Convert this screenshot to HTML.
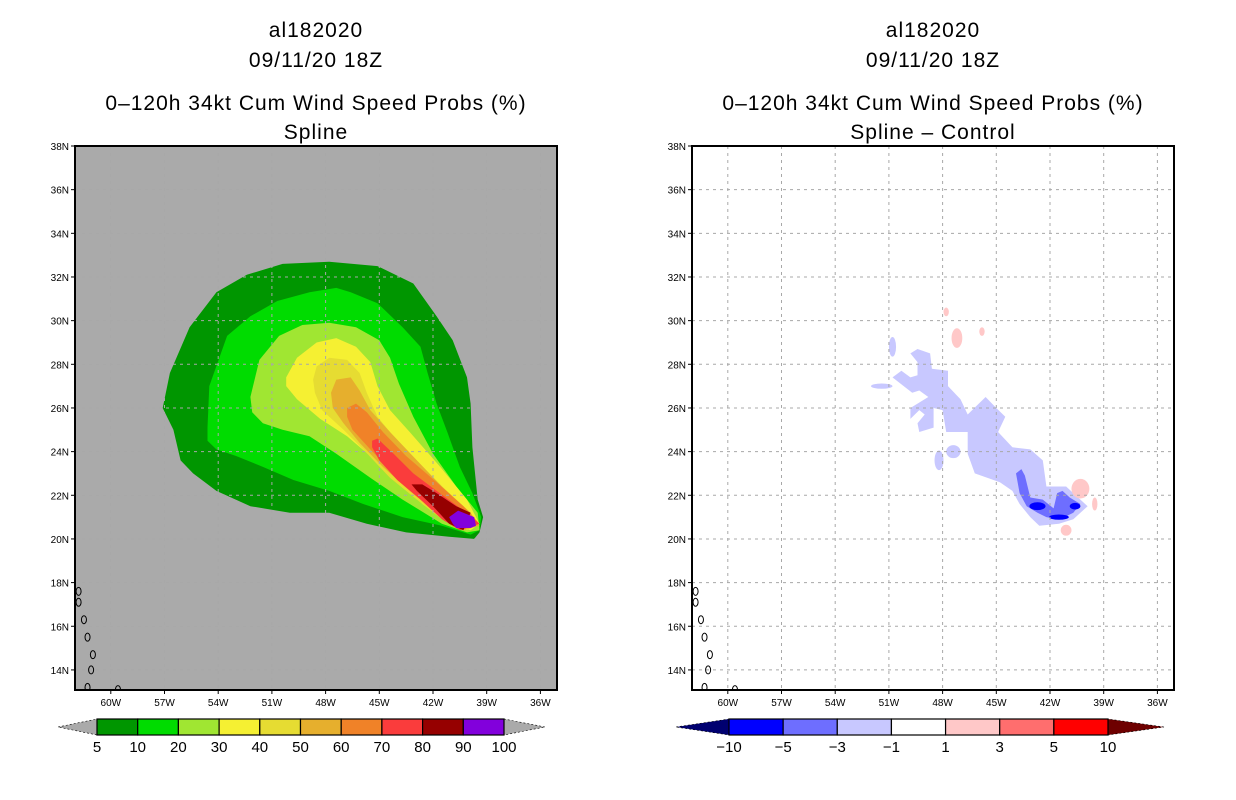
<!DOCTYPE html>
<html><head><meta charset="utf-8">
<style>
body{margin:0;background:#fff;width:1236px;height:800px;overflow:hidden;font-family:"Liberation Sans",sans-serif;}
svg{position:absolute;left:0;top:0;}
</style></head>
<body>
<svg id="chart" width="1236" height="800" viewBox="0 0 1236 800" xmlns="http://www.w3.org/2000/svg"></svg>
<script>
// ---- axis data ----
const lonTicks=[-60,-57,-54,-51,-48,-45,-42,-39,-36];
const latTicks=[14,16,18,20,22,24,26,28,30,32,34,36,38];
const leftLevels=["5","10","20","30","40","50","60","70","80","90","100"];
const leftColors=["#009600","#00dc00","#a0e632","#f5f032","#e6dc32","#e6af2d","#f08228","#fa3c3c","#960000","#8200dc"];
const rightLevels=["-10","-5","-3","-1","1","3","5","10"];
const rightColors=["#0000ff","#6e6eff","#c8c8ff","#ffffff","#ffc8c8","#ff6e6e","#ff0000"];
// contour polygons [lon,lat] for Spline panel (5%,10%,20%,...,90%)
const c5=[[-57.1,26.0],[-56.7,27.6],[-55.6,29.7],[-54.1,31.3],[-52.4,32.1],[-50.4,32.6],[-47.8,32.7],[-45.1,32.5],[-43.1,31.7],[-41.8,30.2],[-40.9,29.1],[-40.1,27.4],[-39.9,26.2],[-39.8,24.2],[-39.5,21.8],[-39.2,21.0],[-39.4,20.3],[-39.7,20.0],[-41.1,20.1],[-43.5,20.3],[-45.7,20.7],[-47.8,21.2],[-50.0,21.2],[-52.2,21.5],[-54.1,22.2],[-55.4,23.0],[-56.1,23.6],[-56.5,25.0]];
const c10=[[-54.6,25.1],[-54.5,27.0],[-53.5,29.3],[-52.2,30.2],[-50.7,30.9],[-48.9,31.3],[-47.4,31.5],[-46.6,31.3],[-45.1,30.8],[-43.7,29.7],[-42.7,28.8],[-42.3,27.6],[-41.8,26.2],[-41.2,24.9],[-40.5,23.3],[-39.8,22.1],[-39.3,21.0],[-39.4,20.4],[-39.9,20.2],[-41.5,20.6],[-43.7,21.0],[-45.9,21.6],[-47.8,22.2],[-49.8,22.7],[-51.5,23.3],[-53.0,23.8],[-54.1,24.1],[-54.6,24.5]];
const c20=[[-52.2,26.5],[-51.7,28.2],[-50.6,29.3],[-49.3,29.8],[-47.8,29.9],[-46.3,29.7],[-45.0,29.1],[-44.4,28.3],[-43.9,27.1],[-43.1,25.6],[-42.0,23.9],[-40.7,22.4],[-39.5,21.2],[-39.4,20.4],[-40.1,20.3],[-41.5,20.7],[-43.7,21.8],[-45.5,22.8],[-47.4,23.9],[-48.9,24.7],[-50.4,25.0],[-51.5,25.3],[-52.1,25.8]];
const c30=[[-50.2,27.4],[-49.6,28.3],[-48.5,29.0],[-47.4,29.2],[-46.3,28.8],[-45.5,28.1],[-45.1,27.0],[-44.4,25.9],[-43.3,24.9],[-41.6,23.3],[-40.1,21.8],[-39.4,20.7],[-39.9,20.4],[-41.1,20.7],[-42.6,21.6],[-44.0,22.7],[-45.5,23.8],[-46.8,24.7],[-48.3,25.5],[-49.6,26.4],[-50.2,27.0]];
const c40=[[-48.7,27.3],[-48.5,27.9],[-47.8,28.3],[-46.8,28.2],[-46.1,27.6],[-45.7,26.7],[-45.1,25.6],[-44.0,24.5],[-42.6,23.3],[-41.1,22.1],[-39.4,20.7],[-40.1,20.4],[-41.5,20.9],[-42.9,21.8],[-44.4,22.8],[-45.9,24.1],[-47.0,25.0],[-48.2,25.9],[-48.6,26.7]];
const c50=[[-47.7,26.7],[-47.4,27.3],[-46.6,27.4],[-46.1,26.8],[-45.5,25.9],[-44.4,24.9],[-42.9,23.6],[-41.5,22.4],[-39.9,21.2],[-39.4,20.6],[-40.3,20.4],[-41.8,21.2],[-43.3,22.2],[-44.8,23.3],[-46.1,24.4],[-47.0,25.3],[-47.6,26.0]];
const c60=[[-46.8,26.0],[-46.3,26.2],[-45.7,25.8],[-44.8,24.9],[-43.5,23.8],[-41.8,22.6],[-40.3,21.5],[-39.4,20.7],[-40.5,20.4],[-41.6,21.2],[-43.1,22.2],[-44.4,23.2],[-45.5,24.1],[-46.5,25.0],[-46.8,25.6]];
const c70=[[-45.4,24.5],[-45.1,24.6],[-44.2,23.9],[-43.1,23.0],[-41.8,22.2],[-40.3,21.3],[-39.4,20.7],[-40.5,20.4],[-41.5,20.9],[-42.7,21.8],[-44.0,22.7],[-45.0,23.6],[-45.4,24.2]];
const c80=[[-43.2,22.5],[-42.6,22.5],[-41.8,22.1],[-40.7,21.5],[-39.9,21.2],[-40.3,20.4],[-41.1,20.7],[-42.0,21.5],[-42.9,22.2]];
const c90=[[-41.1,21.0],[-40.6,21.3],[-39.7,21.0],[-39.6,20.6],[-39.9,20.5],[-40.7,20.5],[-40.9,20.7]];
// difference panel
const dLight=[[-49.8,28.5],[-49.4,28.7],[-48.7,28.5],[-48.6,27.8],[-47.7,27.7],[-47.7,27.0],[-47.0,26.4],[-46.6,25.7],[-45.6,26.5],[-45.0,26.0],[-44.5,25.6],[-44.9,24.9],[-44.1,24.2],[-43.1,24.1],[-42.4,23.6],[-42.2,22.4],[-41.1,22.4],[-39.9,21.5],[-40.7,20.9],[-41.5,20.7],[-42.6,20.6],[-43.1,21.0],[-43.7,21.6],[-44.1,22.2],[-44.8,22.6],[-46.2,23.0],[-46.6,23.9],[-46.6,24.9],[-47.8,24.9],[-48.0,25.9],[-48.5,26.0],[-48.5,25.1],[-49.3,24.9],[-49.4,25.3],[-49.0,25.7],[-49.3,25.9],[-49.8,25.5],[-49.8,26.0],[-48.8,26.5],[-49.3,26.8],[-49.7,26.7],[-50.8,27.4],[-50.3,27.7],[-49.8,27.4],[-49.4,27.5],[-49.4,28.1]];
const dMed=[[-43.9,23.0],[-43.6,23.2],[-43.4,22.9],[-43.1,21.9],[-42.4,21.8],[-41.8,21.4],[-41.6,22.1],[-41.3,22.2],[-40.9,21.9],[-40.3,21.6],[-40.7,21.2],[-41.2,21.0],[-41.6,20.9],[-42.2,21.0],[-42.7,21.2],[-43.3,21.5],[-43.7,22.1]];
// small blobs: [lon,lat,rxDeg,ryDeg]
const lightBlobs=[[-50.8,28.8,0.2,0.45],[-51.4,27.0,0.6,0.12],[-48.2,23.6,0.25,0.45],[-47.4,24.0,0.4,0.3]];
const pinkBlobs=[[-47.8,30.4,0.15,0.2],[-47.2,29.2,0.3,0.45],[-45.8,29.5,0.15,0.2],[-40.3,22.3,0.5,0.45],[-39.5,21.6,0.15,0.3],[-41.1,20.4,0.3,0.25]];
const darkBlobs=[[-42.7,21.5,0.45,0.18],[-40.6,21.5,0.3,0.15],[-41.5,21.0,0.55,0.12]];
const islands=[[-61.8,17.6],[-61.8,17.1],[-61.5,16.3],[-61.3,15.5],[-61.0,14.7],[-61.1,14.0],[-61.3,13.2],[-59.6,13.1]];

const svg=document.getElementById('chart');
const NS='http://www.w3.org/2000/svg';
function mk(tag,attrs,parent){const e=document.createElementNS(NS,tag);for(const k in attrs)e.setAttribute(k,attrs[k]);(parent||svg).appendChild(e);return e;}
const PX=17.9,PY=21.83,LON0=-62,LAT0=38,TOP=146,BOT=690,W=482;
function xs(x0){return lon=>x0+(lon-LON0)*PX;}
function ys(lat){return TOP+(LAT0-lat)*PY;}
function poly(pts,X){return pts.map(p=>X(p[0]).toFixed(1)+','+ys(p[1]).toFixed(1)).join(' ');}
function lonLab(v){return Math.abs(v)+'W';}

function panel(x0,name,bg,sub){
  const X=xs(x0);
  const g=mk('g',{});
  
  
  const cx=x0+W/2;
  const titles=['al182020','09/11/20 18Z','0\u2013120h 34kt Cum Wind Speed Probs (%)',sub];
  const ty=[37,67,110,139];
  titles.forEach((t,i)=>{const e=mk('text',{x:cx,y:ty[i],'text-anchor':'middle','font-size':'21','fill':'#000','letter-spacing':'1'},g);e.textContent=t;
    
    });
  const clipId='clip'+x0;
  const cp=mk('clipPath',{id:clipId},g);mk('rect',{x:x0,y:TOP,width:W,height:BOT-TOP},cp);
  const bgr=mk('rect',{x:x0,y:TOP,width:W,height:BOT-TOP,fill:bg},g);
  
  
  const inner=mk('g',{'clip-path':'url(#'+clipId+')'},g);
  return {X,g,inner};
}
function frame(p,x0){
  const {X,g,inner}=p;
  lonTicks.forEach(v=>{const x=X(v);mk('line',{x1:x,y1:TOP,x2:x,y2:BOT,stroke:'#a8a8a8','stroke-width':1,'stroke-dasharray':'3,4'},inner);});
  latTicks.forEach(v=>{const y=ys(v);mk('line',{x1:x0,y1:y,x2:x0+W,y2:y,stroke:'#a8a8a8','stroke-width':1,'stroke-dasharray':'3,4'},inner);});
  islands.forEach((p,i)=>{const e=mk('ellipse',{cx:X(p[0]),cy:ys(p[1]),rx:2.5,ry:4,fill:'none',stroke:'#000','stroke-width':1},inner);
    
    });
  const b=mk('rect',{x:x0,y:TOP,width:W,height:BOT-TOP,fill:'none',stroke:'#000','stroke-width':2},g);
  
  
  lonTicks.forEach(v=>{const x=X(v);mk('line',{x1:x,y1:BOT,x2:x,y2:BOT+4,stroke:'#000'},g);
    const t=mk('text',{x:x,y:BOT+16,'text-anchor':'middle','font-size':'10'},g);t.textContent=lonLab(v);
    
    });
  latTicks.forEach(v=>{const y=ys(v);mk('line',{x1:x0-4,y1:y,x2:x0,y2:y,stroke:'#000'},g);
    const t=mk('text',{x:x0-6,y:y+4,'text-anchor':'end','font-size':'10'},g);t.textContent=v+'N';
    
    });
}
function colorbar(x1,x2,tl,tr,cols,labs,lc,rc,name){
  const g=mk('g',{});
  
  
  const y1=719,y2=735,ym=727,n=cols.length,w=(x2-x1)/n;
  mk('polygon',{points:`${tl},${ym} ${x1},${y1} ${x1},${y2}`,fill:lc,stroke:'#000','stroke-width':0.6,'stroke-dasharray':'2,2'},g);
  mk('polygon',{points:`${tr},${ym} ${x2},${y1} ${x2},${y2}`,fill:rc,stroke:'#000','stroke-width':0.6,'stroke-dasharray':'2,2'},g);
  cols.forEach((c,i)=>{const r=mk('rect',{x:x1+i*w,y:y1,width:w,height:y2-y1,fill:c,stroke:'#000','stroke-width':1.2},g);
    
    });
  labs.forEach((l,i)=>{const t=mk('text',{x:x1+i*w,y:752,'text-anchor':'middle','font-size':'15'},g);t.textContent=l.replace('-','\u2212');
    
    });
}

// Left panel
const L=panel(75,'spline-panel','#aaaaaa','Spline');
[c5,c10,c20,c30,c40,c50,c60,c70,c80,c90].forEach((c,i)=>{
  const e=mk('polygon',{points:poly(c,L.X),fill:leftColors[i]},L.inner);
  
  
});
frame(L,75);
colorbar(97,504,58,545,leftColors,leftLevels,'#aaaaaa','#aaaaaa','left-colorbar');

// Right panel
const R=panel(692,'difference-panel','#ffffff','Spline \u2013 Control');
{const e=mk('polygon',{points:poly(dLight,R.X),fill:rightColors[2]},R.inner);
 
 }
lightBlobs.forEach(b=>{const e=mk('ellipse',{cx:R.X(b[0]),cy:ys(b[1]),rx:b[2]*PX,ry:b[3]*PY,fill:rightColors[2]},R.inner);
 
 });
{const e=mk('polygon',{points:poly(dMed,R.X),fill:rightColors[1]},R.inner);
 
 }
darkBlobs.forEach(b=>{const e=mk('ellipse',{cx:R.X(b[0]),cy:ys(b[1]),rx:b[2]*PX,ry:b[3]*PY,fill:rightColors[0]},R.inner);
 
 });
pinkBlobs.forEach(b=>{const e=mk('ellipse',{cx:R.X(b[0]),cy:ys(b[1]),rx:b[2]*PX,ry:b[3]*PY,fill:rightColors[4]},R.inner);
 
 });
frame(R,692);
colorbar(729,1108,676,1164,rightColors,rightLevels,'#000070','#6e0000','right-colorbar');
</script>
</body></html>
